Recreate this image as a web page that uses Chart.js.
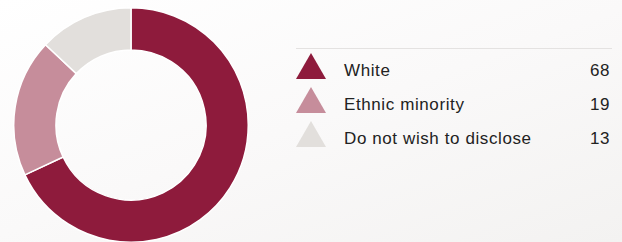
<!DOCTYPE html>
<html>
<head>
<meta charset="utf-8">
<script src="https://cdn.jsdelivr.net/npm/chart.js"></script>
<style>
  html, body { margin: 0; padding: 0; }
  body {
    width: 622px; height: 242px; overflow: hidden; position: relative;
    background: linear-gradient(160deg, #ffffff 0%, #faf9f9 50%, #f3f2f1 100%);
    font-family: "Liberation Sans", Arial, sans-serif;
  }
  #chartBox { position: absolute; left: 13px; top: 7px; width: 236px; height: 236px; }
  #legend { position: absolute; left: 296px; top: 48px; width: 316px; border-top: 1px solid #e4e2e1; }
  .row { position: relative; height: 34px; }
  .tri { position: absolute; left: 0; top: 4px; width: 0; height: 0;
         border-left: 15px solid transparent; border-right: 15px solid transparent; border-bottom: 26px solid; }
  .lbl { position: absolute; left: 48px; top: 12px; font-size: 17px; letter-spacing: 0.6px; color: #222; }
  .val { position: absolute; right: 2px; top: 12px; font-size: 17px; letter-spacing: 0.55px; color: #222; }
</style>
</head>
<body>
<div id="chartBox"><canvas id="c"></canvas></div>
<div id="legend"></div>
<script>
  const categories = ['White', 'Ethnic minority', 'Do not wish to disclose'];
  const values = [68, 19, 13];
  const colors = ['#8e1b3c', '#c68d9b', '#e2dfdc'];

  new Chart(document.getElementById('c'), {
    type: 'doughnut',
    data: {
      labels: categories,
      datasets: [{
        data: values,
        backgroundColor: colors,
        borderColor: '#ffffff',
        borderWidth: 1.5
      }]
    },
    options: {
      responsive: true,
      maintainAspectRatio: false,
      animation: false,
      cutout: '64%',
      layout: { padding: 0 },
      plugins: {
        legend: { display: false },
        tooltip: { enabled: false }
      }
    }
  });

  // legend rows with triangle markers and values
  const legend = document.getElementById('legend');
  categories.forEach((name, i) => {
    const row = document.createElement('div');
    row.className = 'row';
    const tri = document.createElement('div');
    tri.className = 'tri';
    tri.style.borderBottomColor = colors[i];
    const lbl = document.createElement('div');
    lbl.className = 'lbl';
    lbl.textContent = name;
    const val = document.createElement('div');
    val.className = 'val';
    val.textContent = values[i];
    row.appendChild(tri);
    row.appendChild(lbl);
    row.appendChild(val);
    legend.appendChild(row);
  });
</script>
</body>
</html>
